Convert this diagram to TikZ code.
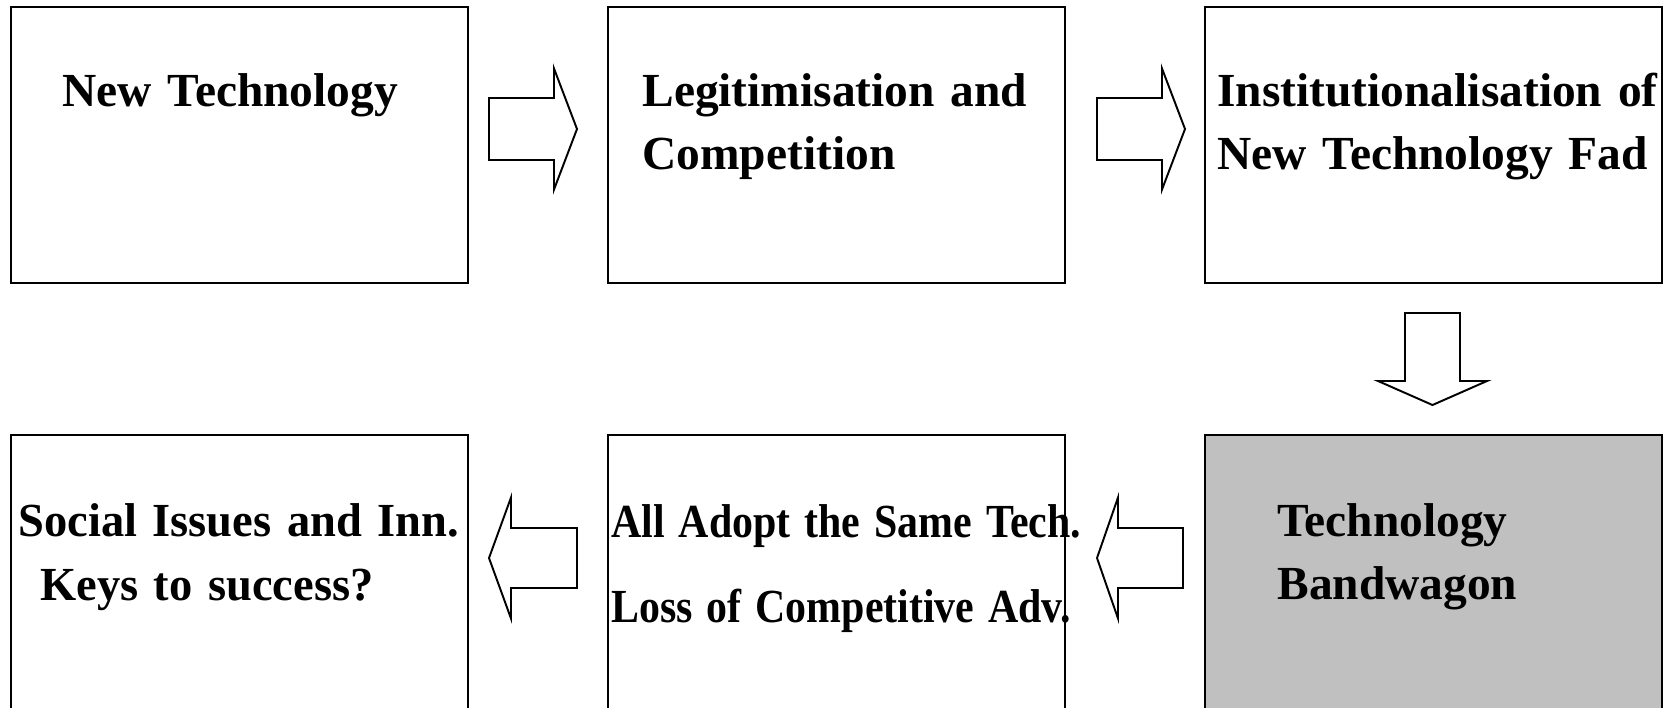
\documentclass[tikz,border=0pt]{standalone}
\usepackage{fontspec}
\setmainfont{Liberation Serif}
\usetikzlibrary{positioning}
\definecolor{wagongrey}{RGB}{192,192,192}

\begin{document}
\begin{tikzpicture}[
    , stage/.style = {rectangle,draw=black,line width=1.2pt,minimum width=9.14cm,minimum height=5.52cm,inner sep=0mm,outer sep=0mm}
    , stagetext/.style = {anchor=base west,inner sep=0mm,align=left,text width=11cm,font=\bfseries\fontsize{27}{36.3}\selectfont}
    , fatarrow/.style = {draw=black,line width=1.1pt,line join=miter}
    , node distance = 3.04cm and 2.8cm
]
\useasboundingbox (0,0) rectangle (33.46,-14.14);
% stages, top row left to right, bottom row right to left
\node[stage] (newtech) at (4.79,-2.90) {};
\node[stage, right=of newtech] (legit) {};
\node[stage, right=of legit] (instit) {};
\node[stage, fill=wagongrey, below=of instit] (wagon) {};
\node[stage, left=of wagon] (adopt) {};
\node[stage, left=of adopt] (social) {};
% texts
\node[stagetext] (newtechtxt) at (1.24,-2.12) {New Technology};
\node[stagetext] (legittxt) at (12.84,-2.12) {Legitimisation and\\Competition};
\node[stagetext] (institxt) at (24.34,-2.12) {Institutionalisation of\\New Technology Fad};
\node[stagetext] (wagontxt) at (25.54,-10.72) {Technology\\Bandwagon};
\node[stagetext, font=\bfseries\fontsize{27}{48.8}\selectfont] (adopttxt) at (12.22,-10.74)
    {\scalebox{0.883}[1]{All Adopt the Same Tech.}\\\scalebox{0.883}[1]{Loss of Competitive Adv.}};
\node[stagetext] (socialtxt) at (0.36,-10.73)
    {\scalebox{0.98}[1]{Social Issues and Inn.}\\\hspace*{0.44cm}\scalebox{0.98}[1]{Keys to success?}};
% block arrows
\draw[fatarrow] (9.78,-1.96) -- ++(1.30,0) -- ++(0,0.59) -- ++(0.46,-1.21) -- ++(-0.46,-1.21) -- ++(0,0.59) -- ++(-1.30,0) -- cycle;
\draw[fatarrow] (21.94,-1.96) -- ++(1.30,0) -- ++(0,0.59) -- ++(0.46,-1.21) -- ++(-0.46,-1.21) -- ++(0,0.59) -- ++(-1.30,0) -- cycle;
\draw[fatarrow] (28.10,-6.26) -- ++(1.10,0) -- ++(0,-1.36) -- ++(0.54,0) -- ++(-1.09,-0.48) -- ++(-1.09,0.48) -- ++(0.54,0) -- cycle;
\draw[fatarrow] (23.66,-10.56) -- ++(-1.30,0) -- ++(0,0.61) -- ++(-0.42,-1.21) -- ++(0.42,-1.21) -- ++(0,0.61) -- ++(1.30,0) -- cycle;
\draw[fatarrow] (11.54,-10.56) -- ++(-1.32,0) -- ++(0,0.61) -- ++(-0.44,-1.21) -- ++(0.44,-1.21) -- ++(0,0.61) -- ++(1.32,0) -- cycle;
\end{tikzpicture}
\end{document}
